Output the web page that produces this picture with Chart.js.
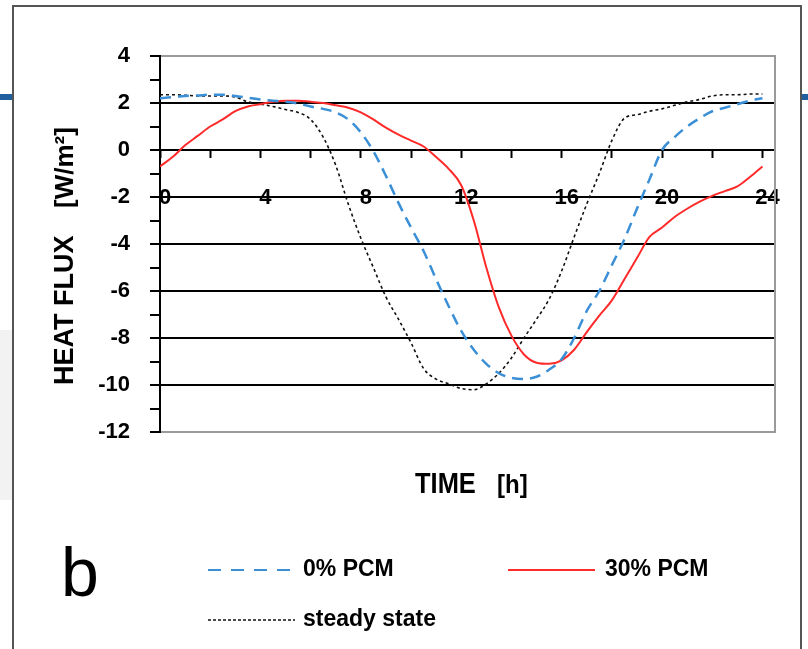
<!DOCTYPE html>
<html>
<head>
<meta charset="utf-8">
<script src="https://cdn.jsdelivr.net/npm/chart.js@4.4.1/dist/chart.umd.min.js"></script>
<style>
html,body{margin:0;padding:0;background:#fff;}
#wrap{position:relative;width:808px;height:649px;}
</style>
</head>
<body>
<div id="wrap"><canvas id="c"></canvas></div>
<script>
// ---- data ----
const hours = [0,0.5,1,1.5,2,2.5,3,3.5,4,4.5,5,5.5,6,6.5,7,7.5,8,8.5,9,9.5,10,10.5,11,11.5,12,12.5,13,13.5,14,14.5,15,15.5,16,16.5,17,17.5,18,18.5,19,19.5,20,20.5,21,21.5,22,22.5,23,23.5,24];
const zeroPcm = [2.2,2.25,2.3,2.32,2.35,2.35,2.3,2.22,2.15,2.1,2.05,1.98,1.85,1.75,1.6,1.3,0.75,-0.05,-1.1,-2.25,-3.3,-4.3,-5.5,-6.65,-7.7,-8.5,-9.1,-9.5,-9.7,-9.75,-9.65,-9.35,-8.9,-8.0,-6.85,-6.0,-4.9,-3.8,-2.5,-1.25,0.0,0.55,1.0,1.35,1.65,1.8,1.95,2.1,2.2];
const thirtyPcm = [-0.7,-0.3,0.2,0.6,1.0,1.3,1.65,1.85,1.95,2.05,2.1,2.1,2.05,2.0,1.9,1.8,1.6,1.3,0.95,0.65,0.4,0.15,-0.3,-0.8,-1.5,-3.0,-5.0,-6.7,-7.9,-8.7,-9.05,-9.1,-8.95,-8.5,-7.75,-7.05,-6.4,-5.5,-4.6,-3.7,-3.3,-2.85,-2.5,-2.2,-1.95,-1.75,-1.55,-1.15,-0.7];
const steadyState = [2.35,2.35,2.33,2.3,2.3,2.3,2.25,2.05,1.95,1.85,1.72,1.6,1.3,0.55,-0.65,-2.3,-3.75,-5.0,-6.25,-7.2,-8.2,-9.3,-9.75,-9.95,-10.15,-10.2,-9.95,-9.5,-8.85,-8.0,-7.2,-6.35,-5.15,-3.7,-2.3,-1.0,0.4,1.35,1.5,1.65,1.75,1.9,2.05,2.15,2.3,2.35,2.35,2.38,2.38];
const seriesLabels = ["0% PCM", "30% PCM", "steady state"];
const yTitleParts = ["HEAT FLUX", "[W/m\u00B2]"];
const xTitleParts = ["TIME", "[h]"];
const panelLetter = "b";

const FONT = '"Liberation Sans Narrow","Arial Narrow","Liberation Sans",Arial,sans-serif';
Chart.defaults.font.family = FONT;

const toPts = (arr) => arr.map((v, i) => ({x: hours[i], y: v}));

const decor = {
  id: 'decor',
  beforeDraw(chart) {
    const c = chart.ctx;
    c.save();
    c.fillStyle = '#fff';
    c.fillRect(0, 0, chart.width, chart.height);
    c.fillStyle = '#f2f2f2';
    c.fillRect(0, 330, 12, 170);
    c.fillStyle = '#1f5f9f';
    c.fillRect(0, 94, 13, 6);
    c.fillRect(802, 94, 6, 6);
    c.strokeStyle = '#555';
    c.lineWidth = 2;
    c.strokeRect(13, 6, 788, 660);
    c.restore();
  },
  afterDatasetsDraw(chart) {
    const c = chart.ctx, a = chart.chartArea;
    c.save();
    c.strokeStyle = '#9a9a9a';
    c.lineWidth = 2;
    c.beginPath();
    c.moveTo(a.right, a.top - 1);
    c.lineTo(a.right, a.bottom + 1);
    c.stroke();
    c.restore();
  },
  afterDraw(chart) {
    const c = chart.ctx;
    c.save();
    c.fillStyle = '#000';
    // y title (rotated), two parts
    c.font = 'bold 27px ' + FONT;
    c.textBaseline = 'middle';
    c.save();
    c.translate(66, 0);
    c.rotate(-Math.PI / 2);
    c.textAlign = 'left';
    c.fillText(yTitleParts[0], -385, 0);
    c.font = 'bold 26px ' + FONT;
    c.fillText(yTitleParts[1], -208, 0);
    c.restore();
    // x title
    c.font = 'bold 26px ' + FONT;
    c.textAlign = 'left';
    c.textBaseline = 'alphabetic';
    c.save();
    c.translate(415, 493);
    c.scale(0.98, 1.1);
    c.fillText(xTitleParts[0], 0, 0);
    c.restore();
    c.save();
    c.translate(497, 493);
    c.scale(1.0, 1.1);
    c.font = 'bold 24px ' + FONT;
    c.fillText(xTitleParts[1], 0, 0);
    c.restore();
    // panel letter
    c.font = '68px "Liberation Sans",Arial,sans-serif';
    c.textAlign = 'center';
    c.fillText(panelLetter, 80, 596);
    // legend
    const pos = [[208, 570], [508, 570], [208, 620]];
    const lens = [82, 87, 87];
    const dashes = [[13, 10], [], [3, 2]];
    chart.data.datasets.forEach((ds, i) => {
      const [x, y] = pos[i];
      c.save();
      c.strokeStyle = ds.borderColor;
      c.lineWidth = i === 2 ? 1.5 : 2.2;
      c.setLineDash(dashes[i]);
      c.beginPath();
      c.moveTo(x, y);
      c.lineTo(x + lens[i], y);
      c.stroke();
      c.restore();
      c.font = 'bold 23px ' + FONT;
      c.textAlign = 'left';
      c.textBaseline = 'middle';
      c.fillText(ds.label, x + (i === 1 ? 97 : 95), y);
    });
    c.restore();
  }
};

new Chart(document.getElementById('c'), {
  type: 'line',
  data: {
    datasets: [
      {label: seriesLabels[0], data: toPts(zeroPcm), borderColor: '#3a8fd6', borderWidth: 2.5, borderDash: [11, 7], pointRadius: 0, cubicInterpolationMode: 'monotone'},
      {label: seriesLabels[1], data: toPts(thirtyPcm), borderColor: '#ff2a2a', borderWidth: 2, pointRadius: 0, cubicInterpolationMode: 'monotone'},
      {label: seriesLabels[2], data: toPts(steadyState), borderColor: '#111', borderWidth: 1.6, borderDash: [3, 3], pointRadius: 0, cubicInterpolationMode: 'monotone'}
    ]
  },
  options: {
    responsive: true,
    maintainAspectRatio: false,
    animation: false,
    layout: {padding: {left: 0, top: 56, right: 33, bottom: 217}},
    plugins: {legend: {display: false}, tooltip: {enabled: false}},
    scales: {
      x: {
        type: 'linear',
        position: {y: 0},
        min: 0, max: 24.5,
        border: {display: false},
        grid: {drawOnChartArea: false, drawTicks: true, tickLength: 8, tickColor: '#000', tickWidth: 2},
        ticks: {stepSize: 2, includeBounds: false, autoSkip: false, maxRotation: 0, padding: 27, labelOffset: 5,
          color: '#000', font: {size: 22, weight: 'bold'},
          callback: (v) => (v % 4 === 0 ? String(v) : '')}
      },
      y: {
        min: -12, max: 4,
        afterFit: (s) => { s.width = 160; },
        border: {display: true, color: '#000', width: 2},
        grid: {
          color: (ctx) => { const v = ctx.tick.value; if (v === 4 || v === -12) return '#9a9a9a'; return (Math.abs(v) % 2 === 1) ? 'rgba(0,0,0,0)' : '#000'; },
          lineWidth: 2, tickLength: 10, tickColor: '#000', tickWidth: 2
        },
        ticks: {stepSize: 1, autoSkip: false, padding: 20, color: '#000', font: {size: 22, weight: 'bold'},
          callback: (v) => (Math.abs(v) % 2 === 0 ? String(v) : '')}
      }
    }
  },
  plugins: [decor]
});
</script>
</body>
</html>
